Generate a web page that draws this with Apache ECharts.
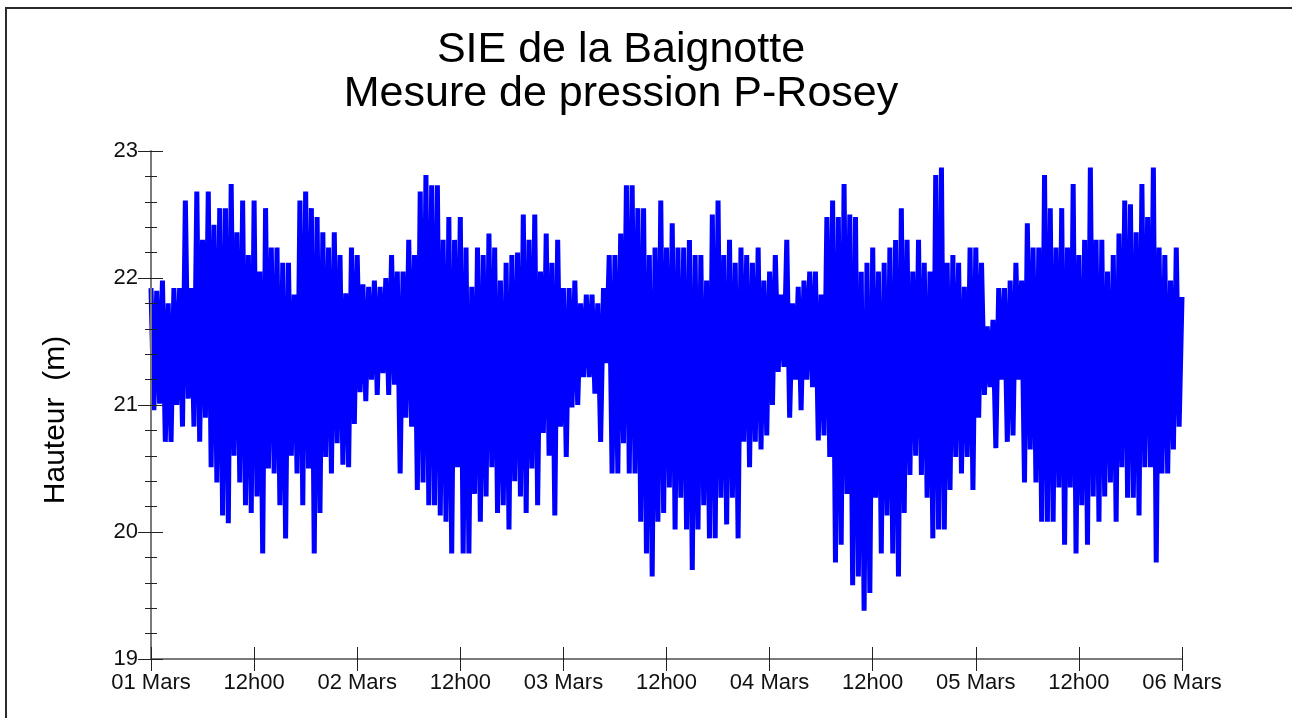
<!DOCTYPE html>
<html>
<head>
    <meta charset="utf-8">
    <title>SIE de la Baignotte - Mesure de pression P-Rosey</title>
    <script src="https://cdn.jsdelivr.net/npm/echarts@6/dist/echarts.min.js"></script>
    <style>
        html, body { margin: 0; padding: 0; background: #fff; }
        #graphe { width: 1292px; height: 718px; }
    </style>
</head>
<body>
<div id="graphe"></div>
<script>
    // pas d'acquisition : une mesure toutes les 20 minutes, du 01 au 06 mars
    var pasMinutes = 20;

    // hauteurs relevées (m), jour par jour
    var jour1 = [
        21.92,20.96, 21.9,21.01, 21.98,20.71, 21.8,20.71, 21.92,21.0, 21.92,20.83,
        22.61,21.05, 21.92,20.83, 22.68,20.71, 22.3,20.9, 22.68,20.51, 22.42,20.39,
        22.55,20.13, 22.55,20.07, 22.74,20.6, 22.36,20.39, 22.61,20.21, 22.18,20.15,
        22.61,20.28, 22.05,19.83, 22.55,20.5, 22.24,20.46, 22.24,20.21, 22.12,19.95,
        22.12,20.6, 21.87,20.46, 22.61,20.21, 22.68,20.5, 22.55,19.83, 22.48,20.15,
        22.36,20.59, 22.24,20.46, 22.36,20.7, 22.18,20.53, 21.88,20.51, 22.24,20.85
    ];
    var jour2 = [
        22.18,21.1, 21.95,21.03, 21.93,21.2, 21.98,21.08, 21.93,21.25, 22.0,21.08,
        22.18,21.16, 22.05,20.46, 22.05,20.9, 22.3,20.83, 22.18,20.33, 22.68,20.39,
        22.81,20.21, 22.73,20.21, 22.73,20.13, 22.3,20.08, 22.48,19.83, 22.3,20.51,
        22.48,19.83, 22.24,19.83, 21.93,20.3, 22.24,20.08, 22.18,20.28, 22.35,20.51,
        22.24,20.15, 21.98,20.21, 22.12,20.02, 22.18,20.4, 22.2,20.28, 22.5,20.15,
        22.3,20.5, 22.5,20.21, 22.05,20.78, 22.35,20.6, 22.12,20.13, 22.3,20.83
    ];
    var jour3 = [
        21.92,20.59, 21.92,20.98, 21.98,21.0, 21.8,21.22, 21.87,21.22, 21.87,21.09,
        21.8,20.71, 21.92,21.33, 22.18,20.46, 22.18,20.46, 22.35,20.7, 22.73,20.46,
        22.73,20.46, 22.55,20.08, 22.55,19.83, 22.18,19.65, 22.24,20.08, 22.61,20.15,
        22.24,20.35, 22.43,20.02, 22.24,20.27, 22.24,20.02, 22.3,19.7, 22.18,20.02,
        22.18,20.21, 21.98,19.95, 22.5,19.95, 22.61,20.27, 22.18,20.06, 22.3,20.27,
        22.12,19.95, 22.24,20.71, 22.18,20.51, 22.12,20.71, 22.24,20.65, 21.98,20.76
    ];
    var jour4 = [
        22.05,21.0, 22.18,21.26, 21.87,21.3, 22.3,20.9, 21.8,21.2, 21.93,20.96,
        21.98,21.2, 22.05,21.14, 22.05,20.72, 21.87,20.76, 22.48,20.59, 22.61,19.76,
        22.48,19.9, 22.74,20.3, 22.5,19.58, 22.48,19.65, 22.05,19.38, 22.12,19.52,
        22.24,20.27, 22.05,19.83, 22.12,20.13, 22.24,19.83, 22.3,19.65, 22.55,20.15,
        22.3,20.45, 22.05,20.6, 22.3,20.45, 22.12,20.27, 22.05,19.95, 22.81,20.02,
        22.87,20.02, 22.12,20.33, 22.18,20.59, 22.12,20.46, 21.93,20.59, 22.24,20.33
    ];
    var jour5 = [
        22.24,20.9, 22.12,21.08, 21.62,21.14, 21.67,20.66, 21.92,21.2, 21.92,20.71,
        21.98,20.76, 22.12,21.2, 21.98,20.39, 22.43,20.65, 22.24,20.39, 22.24,20.08,
        22.81,20.08, 22.55,20.08, 22.24,20.35, 22.55,19.9, 22.24,20.35, 22.74,19.83,
        22.18,20.21, 22.3,19.9, 22.87,20.28, 22.3,20.08, 22.3,20.28, 22.05,20.39,
        22.18,20.08, 22.35,20.51, 22.61,20.27, 22.58,20.27, 22.36,20.13, 22.74,20.51,
        22.48,20.51, 22.87,19.76, 22.24,20.46, 22.18,20.46, 21.98,20.65, 22.24,20.83
    ];
    var derniere = [21.85];

    var etiquettesX = ['01 Mars', '12h00', '02 Mars', '12h00', '03 Mars', '12h00',
                       '04 Mars', '12h00', '05 Mars', '12h00', '06 Mars'];

    var mesures = [].concat(jour1, jour2, jour3, jour4, jour5, derniere);
    var donnees = mesures.map(function (v, i) {
        return [i * pasMinutes / 60, v];   // abscisse en heures depuis le 01 mars 00h
    });

    var police = "'Liberation Sans', Arial, sans-serif";
    var couleurTick = '#222';

    var myChart = echarts.init(document.getElementById('graphe'), null, {renderer: 'canvas'});

    myChart.setOption({
        animation: false,
        backgroundColor: '#fff',
        title: {
            text: 'SIE de la Baignotte\nMesure de pression P-Rosey',
            left: 621,
            top: 28,
            textAlign: 'center',
            padding: 0,
            textStyle: {
                fontFamily: police,
                fontSize: 43,
                lineHeight: 44,
                fontWeight: 'normal',
                color: '#000'
            }
        },
        grid: { left: 151, right: 110, top: 151, bottom: 59 },
        xAxis: [{
            type: 'value', min: 0, max: 120, interval: 12, position: 'bottom', z: 5,
            axisLine: { show: true, lineStyle: { color: '#7a7a7a', width: 2 } },
            axisTick: { show: true, length: 12, lineStyle: { color: couleurTick, width: 1 } },
            axisLabel: {
                margin: 13, fontSize: 22, fontFamily: police, color: '#111',
                showMinLabel: true, showMaxLabel: true,
                formatter: function (v) { return etiquettesX[Math.round(v / 12)]; }
            },
            splitLine: { show: false }
        }, {
            // second axe superposé : la partie intérieure des graduations
            type: 'value', min: 0, max: 120, interval: 12, position: 'bottom', z: 5,
            axisLine: { show: false },
            axisTick: { show: true, inside: true, length: 12, lineStyle: { color: couleurTick, width: 1 } },
            axisLabel: { show: false },
            splitLine: { show: false }
        }],
        yAxis: [{
            type: 'value', min: 19, max: 23, interval: 1, position: 'left', offset: 0, z: 5,
            axisLine: { show: true, lineStyle: { color: '#7a7a7a', width: 2 } },
            axisTick: { show: true, length: 13, lineStyle: { color: couleurTick, width: 1 } },
            minorTick: { show: true, splitNumber: 5, length: 6, lineStyle: { color: couleurTick, width: 1 } },
            axisLabel: { margin: 13, fontSize: 22, fontFamily: police, color: '#111' },
            splitLine: { show: false }
        }, {
            type: 'value', min: 19, max: 23, interval: 1, position: 'left', offset: 0, z: 5,
            axisLine: { show: false },
            axisTick: { show: true, inside: true, length: 12, lineStyle: { color: couleurTick, width: 1 } },
            minorTick: { show: true, splitNumber: 5, length: 6, lineStyle: { color: couleurTick, width: 1 } },
            axisLabel: { show: false },
            splitLine: { show: false }
        }],
        graphic: [{
            type: 'rect', silent: true, z: 10,
            shape: { x: 6, y: 8, width: 1400, height: 900 },
            style: { fill: null, stroke: '#2b2b2b', lineWidth: 2 }
        }, {
            type: 'text', silent: true,
            x: 56, y: 420, rotation: Math.PI / 2,
            style: {
                text: 'Hauteur  (m)',
                fontSize: 30, fontFamily: police, fill: '#000',
                align: 'center', verticalAlign: 'middle'
            }
        }],
        series: [{
            name: 'P-Rosey',
            type: 'line',
            xAxisIndex: 0,
            yAxisIndex: 0,
            data: donnees,
            symbol: 'none',
            showSymbol: false,
            clip: false,
            silent: true,
            z: 1,
            lineStyle: { color: '#0000ff', width: 5 }
        }]
    });
</script>
</body>
</html>
